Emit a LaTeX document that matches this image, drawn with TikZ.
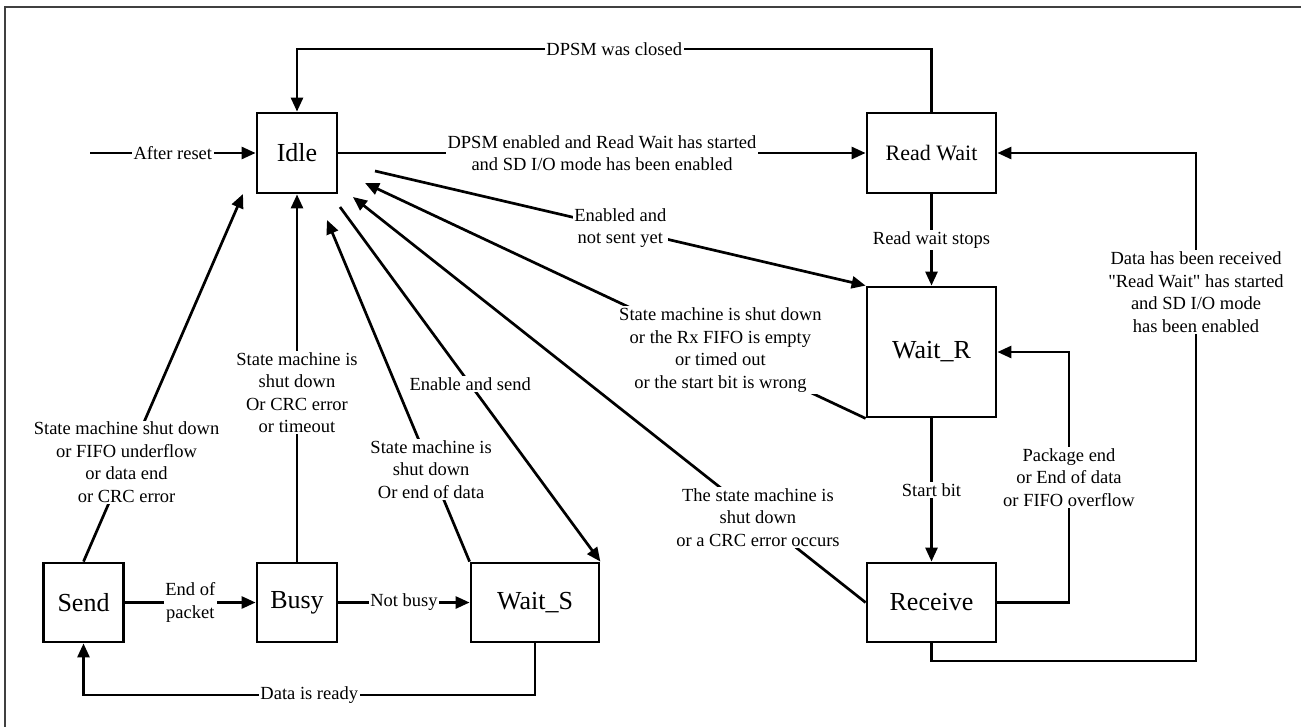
\documentclass[tikz,border=0pt]{standalone}
\usepackage{fontspec}
\setmainfont{Liberation Serif}[Ligatures=TeXOff]
\usetikzlibrary{arrows.meta}
\tikzset{
  st/.style={draw=black, line width=2.8pt, inner sep=0pt, font=\fontsize{26}{30}\selectfont},
  conn/.style={line width=2.7pt, -{Triangle[length=14pt,width=12pt]}},
  lbl/.style={fill=white, inner sep=1.5pt, align=center, font=\fontsize{18.5}{22.5}\selectfont},
}
\begin{document}
\begin{tikzpicture}[x=1pt,y=-1pt]
\useasboundingbox (0,0) rectangle (1301,726);
\draw[line width=1.5pt, black!75] (5,7) rectangle (1310,735);

% states
\node[st, minimum width=80pt, minimum height=80pt] (idle) at (297,153) {Idle};
\node[st, minimum width=129pt, minimum height=80pt, font=\fontsize{22}{26}\selectfont] (readwait) at (931.5,153) {Read Wait};
\node[st, minimum width=129pt, minimum height=130pt] (waitr) at (931.5,352) {Wait\_R};
\node[st, minimum width=129pt, minimum height=79pt] (receive) at (931.5,602.5) {Receive};
\node[st, minimum width=80pt, minimum height=79pt] (send) at (83.5,602.5) {Send};
\node[st, minimum width=80pt, minimum height=79pt] (busy) at (297,602.5) {Busy};
\node[st, minimum width=128pt, minimum height=79pt] (waits) at (535,602.5) {Wait\_S};

% helper coordinates
\coordinate (reset) at (90,153);
\coordinate (toprow) at (0,49);
\coordinate (botrow) at (0,695);
\coordinate (rcvrow) at (0,661);
\coordinate (rightcol) at (1196,0);
\coordinate (pkgcol) at (1069,0);
\coordinate (tA) at (243,194);
\coordinate (tB) at (327,220);
\coordinate (sE) at (340,207);
\coordinate (tC) at (353,197);
\coordinate (tD) at (365,183);
\coordinate (sN) at (375,171);

% transitions
\draw[conn] (reset) -- node[lbl]{After reset} (idle.west);
\draw[conn] (readwait.north) -- (readwait.north |- toprow) -- node[lbl]{DPSM was closed} (idle.north |- toprow) -- (idle.north);
\draw[conn] (idle.east) -- node[lbl]{DPSM enabled and Read Wait has started\\and SD I/O mode has been enabled} (readwait.west);
\draw[conn] (readwait.south) -- node[lbl]{Read wait stops} (waitr.north);
\draw[conn] (sN) -- node[lbl]{Enabled and\\not sent yet} (waitr.north west);
\draw[conn] (waitr.south west) -- node[lbl,pos=0.29]{State machine is shut down\\or the Rx FIFO is empty\\or timed out\\or the start bit is wrong} (tD);
\draw[conn] (receive.west) -- node[lbl,pos=0.21]{The state machine is\\shut down\\or a CRC error occurs} (tC);
\draw[conn] (sE) -- node[lbl]{Enable and send} (waits.north east);
\draw[conn] (waits.north west) -- node[lbl,pos=0.27]{State machine is\\shut down\\Or end of data} (tB);
\draw[conn] (busy.north) -- node[lbl,pos=0.46]{State machine is\\shut down\\Or CRC error\\or timeout} (idle.south);
\draw[conn] (send.north) -- node[lbl,pos=0.27]{State machine shut down\\or FIFO underflow\\or data end\\or CRC error} (tA);
\draw[conn] (send.east) -- node[lbl]{End of\\packet} (busy.west);
\draw[conn] (busy.east) -- node[lbl]{Not busy} (waits.west);
\draw[conn] (waits.south) -- (waits.south |- botrow) -- node[lbl]{Data is ready} (send.south |- botrow) -- (send.south);
\draw[conn] (waitr.south) -- node[lbl]{Start bit} (receive.north);
\draw[conn] (receive.east) -- (receive.east -| pkgcol) -- node[lbl]{Package end\\or End of data\\or FIFO overflow} (waitr.east -| pkgcol) -- (waitr.east);
\draw[conn] (receive.south) -- (receive.south |- rcvrow) -- (rightcol |- rcvrow) -- node[lbl,pos=0.726]{Data has been received\\"Read Wait" has started\\and SD I/O mode\\has been enabled} (rightcol |- readwait.east) -- (readwait.east);
\end{tikzpicture}
\end{document}
